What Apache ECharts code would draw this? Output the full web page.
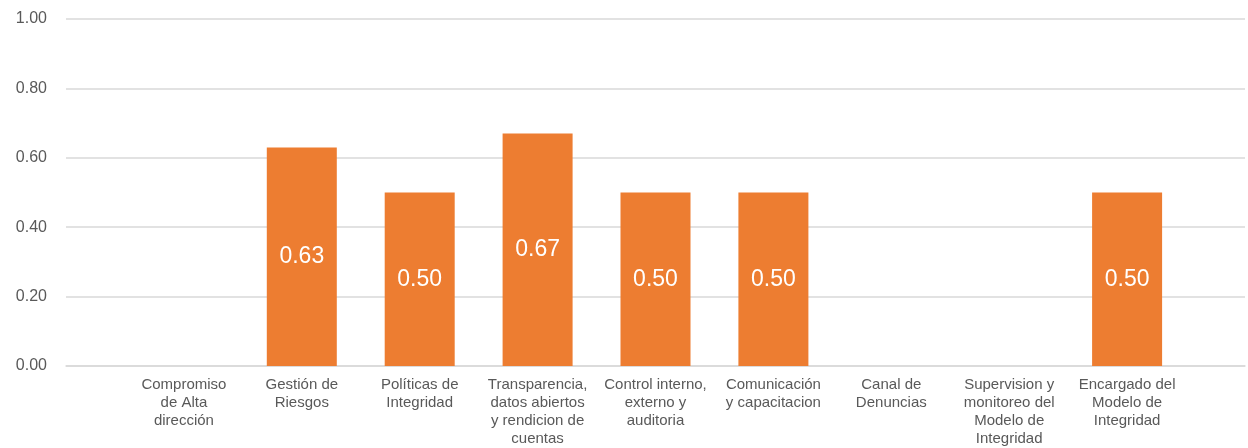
<!DOCTYPE html>
<html><head><meta charset="utf-8">
<script src="https://cdn.jsdelivr.net/npm/echarts@6/dist/echarts.min.js"></script>
<style>html,body{margin:0;padding:0;background:#fff;overflow:hidden}#c{width:1248px;height:448px}</style>
</head><body><div id="c"></div>
<script>
const categories = [
  "",
  "Compromiso\nde Alta\ndirección",
  "Gestión de\nRiesgos",
  "Políticas de\nIntegridad",
  "Transparencia,\ndatos abiertos\ny rendicion de\ncuentas",
  "Control interno,\nexterno y\nauditoria",
  "Comunicación\ny capacitacion",
  "Canal de\nDenuncias",
  "Supervision y\nmonitoreo del\nModelo de\nIntegridad",
  "Encargado del\nModelo de\nIntegridad",
  ""
];
const values = [null, 0, 0.63, 0.50, 0.67, 0.50, 0.50, 0, 0, 0.50, null];
const yTicks = [0, 0.2, 0.4, 0.6, 0.8, 1.0];

const chart = echarts.init(document.getElementById('c'));
chart.setOption({
  animation: false,
  textStyle: {fontFamily: 'Liberation Sans, Arial, sans-serif'},
  grid: {left: 66, right: 2, top: 19, bottom: 76, containLabel: false},
  xAxis: {
    type: 'category',
    data: categories,
    boundaryGap: false,
    axisLine: {show: true, lineStyle: {color: '#d9d9d9', width: 1.5}},
    axisTick: {show: false},
    splitLine: {show: false},
    axisLabel: {interval: 0, color: '#595959', fontSize: 15, lineHeight: 18, margin: 10, align: 'center'}
  },
  yAxis: {
    type: 'value',
    min: yTicks[0], max: yTicks[yTicks.length - 1], interval: 0.2,
    axisLine: {show: false},
    axisTick: {show: false},
    splitLine: {lineStyle: {color: '#d9d9d9', width: 1.5}},
    axisLabel: {color: '#595959', fontSize: 16, margin: 19, formatter: v => v.toFixed(2)}
  },
  series: [{
    type: 'bar',
    data: values,
    barWidth: 70,
    itemStyle: {color: '#ED7D31'},
    label: {
      show: true, position: 'inside', color: '#ffffff', fontSize: 23,
      formatter: p => (p.value ? p.value.toFixed(2) : '')
    }
  }]
});
</script></body></html>
